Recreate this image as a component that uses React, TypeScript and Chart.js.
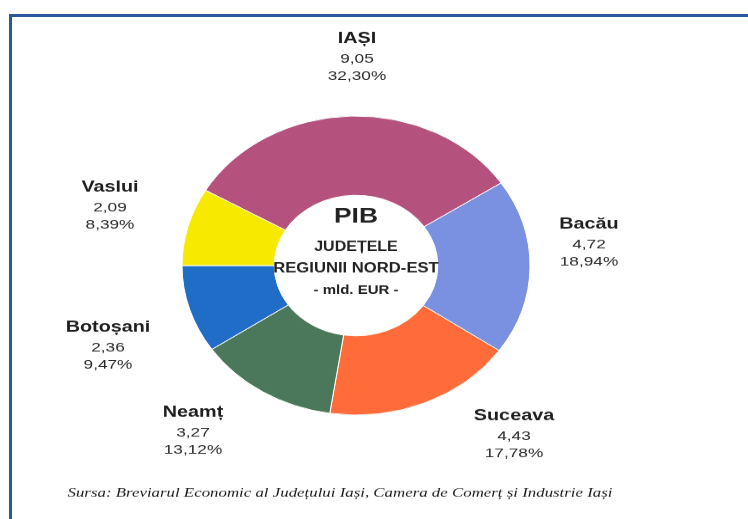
import React, { useEffect, useRef } from 'react';
import { Chart, registerables } from 'chart.js';

Chart.register(...registerables);

// ---- data ----
const counties = ['IAȘI', 'Bacău', 'Suceava', 'Neamț', 'Botoșani', 'Vaslui'];
const gdpValues = [9.05, 4.72, 4.43, 3.27, 2.36, 2.09];
const gdpShares = [32.3, 18.94, 17.78, 13.12, 9.47, 8.39];
const centerLines = ['PIB', 'JUDEȚELE', 'REGIUNII NORD-EST', '- mld. EUR -'];
const sourceNote = 'Sursa: Breviarul Economic al Județului Iași, Camera de Comerț și Industrie Iași';

// ---- styles ----
const sliceColors = ['#B4517C', '#7A90E0', '#FF6C3A', '#4B775A', '#1F6DC6', '#F8E900'];
// label anchor offsets (unscaled px) from doughnut centre, per county
const labelOffsets: [number, number][] = [
  [1, -264],
  [233, -48],
  [158, 175],
  [-163, 171],
  [-248, 72],
  [-246, -91],
];
const centerOffsets = [-56.5, -21.6, 4, 28.5];
const SCALE_Y = 0.8593;
const CANVAS_H = 604;

const fmt = (v: number) => v.toFixed(2).replace('.', ',');

function drawText(
  ctx: CanvasRenderingContext2D,
  text: string,
  x: number,
  y: number,
  font: string,
  hs: number,
  color: string
) {
  ctx.save();
  ctx.translate(x, y);
  ctx.scale(hs, 1);
  ctx.font = font;
  ctx.fillStyle = color;
  ctx.textAlign = 'center';
  ctx.textBaseline = 'middle';
  ctx.fillText(text, 0, 0);
  ctx.restore();
}

const labelPlugin = {
  id: 'pibLabels',
  afterDraw(chart: any) {
    const ctx: CanvasRenderingContext2D = chart.ctx;
    const meta = chart.getDatasetMeta(0);
    const arc = meta.data[0];
    if (!arc) return;
    const cx = arc.x;
    const cy = arc.y;
    counties.forEach((name, i) => {
      const [dx, dy] = labelOffsets[i];
      const x = cx + dx;
      const y = cy + dy;
      drawText(ctx, name, x, y, 'bold 18px "Liberation Sans", Arial, sans-serif', 1.1, '#1e1e1e');
      drawText(ctx, fmt(gdpValues[i]), x, y + 23.5, '15px "Liberation Sans", Arial, sans-serif', 1.15, '#2a2a2a');
      drawText(ctx, fmt(gdpShares[i]) + '%', x, y + 43.5, '15px "Liberation Sans", Arial, sans-serif', 1.15, '#2a2a2a');
    });
    const cfonts = [
      ['bold 24px "Liberation Sans", Arial, sans-serif', 1.1],
      ['bold 16px "Liberation Sans", Arial, sans-serif', 1.0],
      ['bold 16px "Liberation Sans", Arial, sans-serif', 1.04],
      ['bold 15px "Liberation Sans", Arial, sans-serif', 1.0],
    ] as [string, number][];
    centerLines.forEach((t, i) => {
      drawText(ctx, t, cx, cy + centerOffsets[i], cfonts[i][0], cfonts[i][1], '#222');
    });
    // source note, fitted to width
    ctx.save();
    ctx.font = 'italic 15px "Liberation Serif", "Times New Roman", serif';
    const w = ctx.measureText(sourceNote).width;
    ctx.restore();
    drawText(ctx, sourceNote, 340, 573.7, 'italic 15px "Liberation Serif", "Times New Roman", serif', 545 / w, '#1a1a1a');
  },
};

export default function App() {
  const canvasRef = useRef<HTMLCanvasElement | null>(null);

  useEffect(() => {
    if (!canvasRef.current) return;
    const total = gdpShares.reduce((a, b) => a + b, 0);
    // last slice (Vaslui) ends at 9 o'clock
    const rotation = 270 + (gdpShares[gdpShares.length - 1] / total) * 360 - 360;
    const chart = new Chart(canvasRef.current, {
      type: 'doughnut',
      data: {
        labels: counties,
        datasets: [
          {
            data: gdpShares,
            backgroundColor: sliceColors,
            borderColor: '#ffffff',
            borderWidth: 1,
          },
        ],
      },
      options: {
        animation: false,
        responsive: true,
        maintainAspectRatio: false,
        rotation,
        radius: 174,
        cutout: '47%',
        layout: { padding: { left: 156, right: 192, top: 109, bottom: 95 } },
        plugins: {
          legend: { display: false },
          tooltip: { enabled: false },
          title: { display: false },
        },
      },
      plugins: [labelPlugin],
    });
    return () => chart.destroy();
  }, []);

  return (
    <div
      style={{
        position: 'fixed',
        left: 0,
        top: 0,
        width: 748,
        height: 519,
        overflow: 'hidden',
        background: '#ffffff',
      }}
    >
      <div
        style={{
          position: 'absolute',
          left: 0,
          top: 0,
          width: 748,
          height: CANVAS_H,
          transform: `scaleY(${SCALE_Y})`,
          transformOrigin: '0 0',
        }}
      >
        <canvas ref={canvasRef} />
      </div>
      <div
        style={{
          position: 'absolute',
          left: 9,
          top: 14,
          width: 800,
          height: 600,
          borderTop: '3px solid #2B5896',
          borderLeft: '3px solid #2B5896',
          pointerEvents: 'none',
        }}
      />
    </div>
  );
}
